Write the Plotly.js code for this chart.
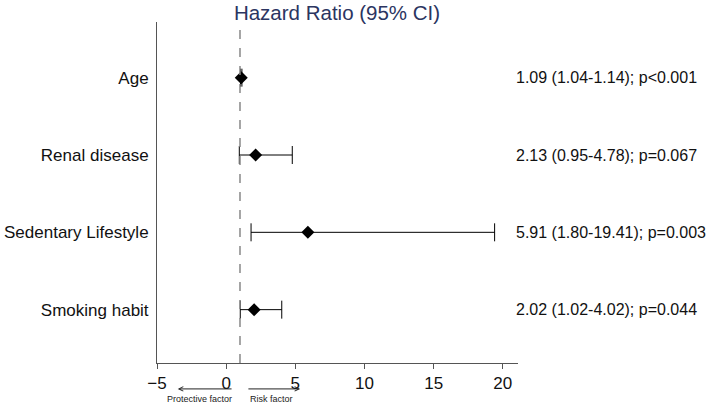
<!DOCTYPE html>
<html>
<head>
<meta charset="utf-8">
<script src="https://cdn.plot.ly/plotly-3.0.1.min.js"></script>
<style>html,body{margin:0;padding:0;background:#fff}</style>
</head>
<body>
<div id="chart" style="width:708px;height:403px"></div>
<script>
// forest plot values
const labels = ['Age', 'Renal disease', 'Sedentary Lifestyle', 'Smoking habit'];
const hr = [1.09, 2.13, 5.91, 2.02];
const lo = [1.04, 0.95, 1.80, 1.02];
const hi = [1.14, 4.78, 19.41, 4.02];
const pvals = ['p<0.001', 'p=0.067', 'p=0.003', 'p=0.044'];
const refLine = 1;

const font = 'Liberation Sans, Arial, Helvetica, sans-serif';

let trace = {
    x: hr,
    y: labels,
    type: 'scatter',
    mode: 'markers',
    marker: {symbol: 'diamond', size: 10, color: '#000'},
    error_x: {
        type: 'data',
        symmetric: false,
        array: hi.map((h, i) => h - hr[i]),
        arrayminus: lo.map((l, i) => hr[i] - l),
        color: '#000',
        thickness: 1,
        width: 9
    },
    showlegend: false,
    hoverinfo: 'skip'
};

let notes = labels.map((lab, i) => ({
    xref: 'paper', yref: 'y',
    x: 0.99, y: lab,
    xanchor: 'left', yanchor: 'middle',
    text: hr[i].toFixed(2) + ' (' + lo[i].toFixed(2) + '-' + hi[i].toFixed(2) + '); ' + pvals[i],
    showarrow: false,
    font: {family: font, size: 16, color: '#111'}
}));

// direction arrows under the axis
notes.push(
    {xref: 'x', yref: 'paper', axref: 'x', ayref: 'paper', x: -3.5, y: -0.076, ax: 0.5, ay: -0.076,
     showarrow: true, arrowhead: 5, arrowsize: 0.9, arrowwidth: 1, arrowcolor: '#222', text: ''},
    {xref: 'x', yref: 'paper', axref: 'x', ayref: 'paper', x: 5.35, y: -0.076, ax: 1.5, ay: -0.076,
     showarrow: true, arrowhead: 5, arrowsize: 0.9, arrowwidth: 1, arrowcolor: '#222', text: ''},
    {xref: 'x', yref: 'paper', x: -1.9, y: -0.106, yanchor: 'middle', showarrow: false,
     text: 'Protective factor', font: {family: font, size: 9, color: '#222'}},
    {xref: 'x', yref: 'paper', x: 3.25, y: -0.106, yanchor: 'middle', showarrow: false,
     text: 'Risk factor', font: {family: font, size: 9, color: '#222'}}
);

let layout = {
    width: 708,
    height: 403,
    margin: {l: 157, r: 190, t: 22, b: 40},
    paper_bgcolor: '#fff',
    plot_bgcolor: '#fff',
    font: {family: font, color: '#111'},
    title: {
        text: 'Hazard Ratio (95% CI)',
        xref: 'container', yref: 'container',
        x: 0.476, xanchor: 'center',
        y: 0.985, yanchor: 'top',
        font: {family: font, size: 20.5, color: '#2b3561'}
    },
    xaxis: {
        range: [-5, 21.1],
        tickvals: [-5, 0, 5, 10, 15, 20],
        ticks: 'outside', ticklen: 5, tickcolor: '#555',
        showline: true, linecolor: '#555', linewidth: 1,
        showgrid: false, zeroline: false,
        tickfont: {family: font, size: 17, color: '#111'}
    },
    yaxis: {
        type: 'category',
        categoryarray: labels,
        range: [3.69, -0.72],
        showline: true, linecolor: '#555', linewidth: 1,
        showgrid: false, zeroline: false,
        ticks: '',
        ticklabelstandoff: 4,
        tickfont: {family: font, size: 17, color: '#111'}
    },
    shapes: [{
        type: 'line', xref: 'x', yref: 'paper',
        x0: refLine, x1: refLine, y0: 0, y1: 1,
        line: {color: '#888', width: 1.5, dash: 'dash'}
    }],
    annotations: notes
};

Plotly.newPlot('chart', [trace], layout, {displayModeBar: false, staticPlot: true});
</script>
</body>
</html>
